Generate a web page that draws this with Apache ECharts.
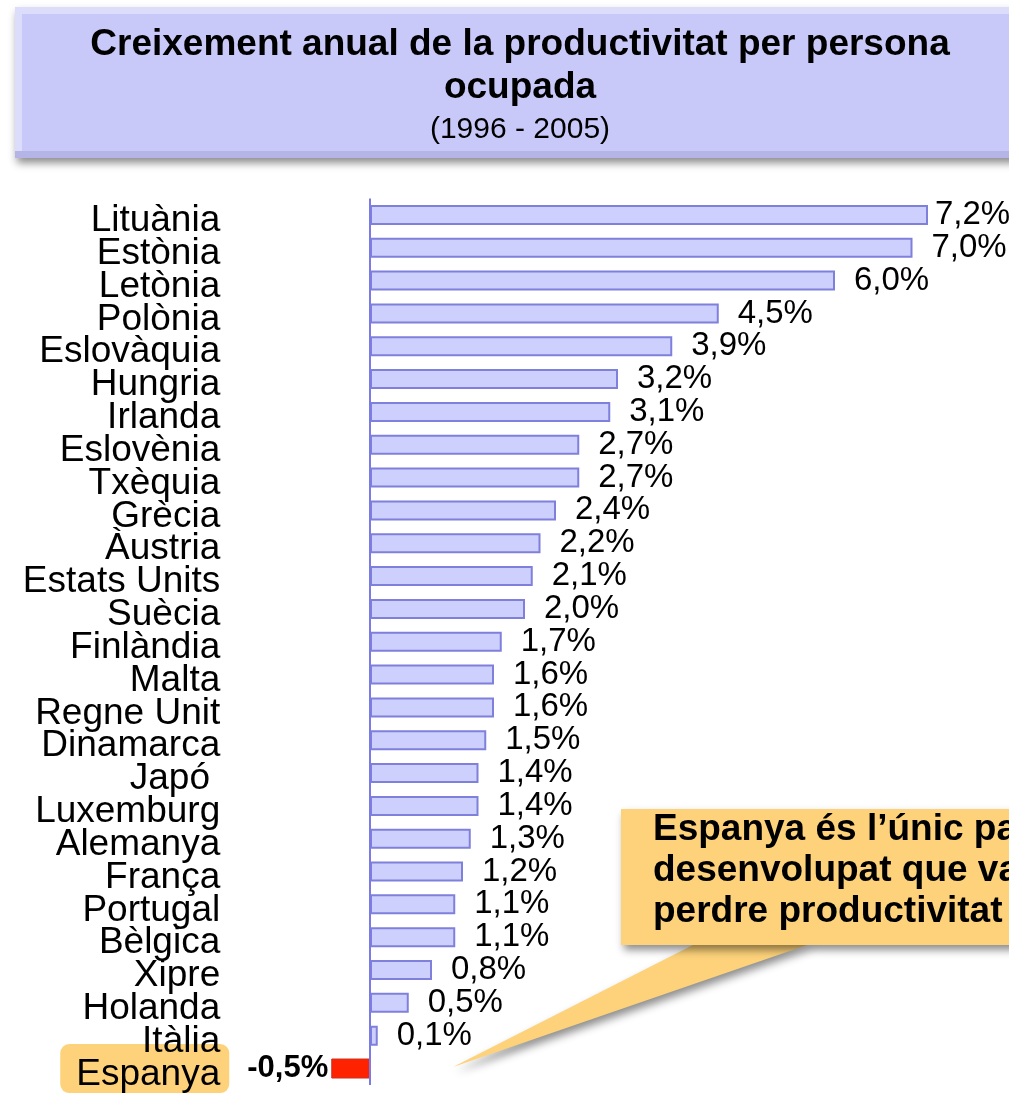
<!DOCTYPE html>
<html>
<head>
<meta charset="utf-8">
<script src="https://cdn.jsdelivr.net/npm/echarts@6/dist/echarts.min.js"></script>
<style>
  html, body { margin: 0; padding: 0; background: #fff; }
  #myChart { width: 1009px; height: 1093px; }
</style>
</head>
<body>
<div id="myChart"></div>
<script>
// dades
var countries = ["Lituània", "Estònia", "Letònia", "Polònia", "Eslovàquia", "Hungria", "Irlanda",
  "Eslovènia", "Txèquia", "Grècia", "Àustria", "Estats Units", "Suècia", "Finlàndia", "Malta",
  "Regne Unit", "Dinamarca", "Japó ", "Luxemburg", "Alemanya", "França", "Portugal", "Bèlgica",
  "Xipre", "Holanda", "Itàlia", "Espanya"];
var growth = [7.2, 7.0, 6.0, 4.5, 3.9, 3.2, 3.1, 2.7, 2.7, 2.4, 2.2, 2.1, 2.0, 1.7, 1.6, 1.6, 1.5,
  1.4, 1.4, 1.3, 1.2, 1.1, 1.1, 0.8, 0.5, 0.1, -0.5];
var titleLines = ["Creixement anual de la productivitat per persona", "ocupada"];
var subtitle = "(1996 - 2005)";
var noteText = "Espanya és l’únic país\ndesenvolupat que va\nperdre productivitat";
var highlight = "Espanya";

var font = "Liberation Sans, Arial, sans-serif";
var barFill = "#cdcffc";
var barLine = "#7f80dc";
var orange = "#fdd27a";

function pct(v) {
  return v.toFixed(1).replace(".", ",") + "%";
}

var barData = growth.map(function (v, i) {
  if (countries[i] === highlight) {
    return {
      value: v,
      itemStyle: { color: "#ff2200", borderColor: "#cc3322", borderWidth: 1 },
      label: { position: "left", distance: 3, fontWeight: "bold", fontSize: 31 }
    };
  }
  if (i === 0) {
    return { value: v, label: { distance: 7 } };
  }
  return v;
});

var labelBase = {
  interval: 0,
  showMinLabel: true,
  showMaxLabel: true,
  hideOverlap: false,
  margin: 102
};

var myChart = echarts.init(document.getElementById("myChart"));
myChart.setOption({
  animation: false,
  backgroundColor: "#fff",
  textStyle: { fontFamily: font },
  title: {
    text: titleLines.join("\n"),
    subtext: subtitle,
    left: 515,
    top: 18,
    textAlign: "center",
    itemGap: 4,
    textStyle: { fontFamily: font, fontSize: 37, fontWeight: "bold", color: "#000", lineHeight: 43 },
    subtextStyle: { fontFamily: font, fontSize: 30, color: "#000", lineHeight: 34 }
  },
  grid: { left: 331.25, right: 19, top: 198.5, bottom: 6.5 },
  xAxis: {
    type: "value",
    min: -0.5,
    max: 8,
    show: false
  },
  yAxis: [
    {
      // noms dels països
      type: "category",
      inverse: true,
      data: countries,
      z: 3,
      axisLine: { show: false },
      axisTick: { show: false },
      axisLabel: Object.assign({}, labelBase, {
        formatter: function (name) { return "{n|" + name + "}"; },
        rich: {
          n: { fontFamily: font, fontSize: 37, color: "#000", padding: [12, 9, 0, 0] }
        }
      })
    },
    {
      // fons taronja darrere d'Espanya
      type: "category",
      inverse: true,
      data: countries,
      position: "left",
      z: 1,
      axisLine: { show: false },
      axisTick: { show: false },
      axisLabel: Object.assign({}, labelBase, {
        formatter: function (name) { return name === highlight ? "{hl|" + name + "}" : ""; },
        rich: {
          hl: {
            fontFamily: font, fontSize: 37, color: "rgba(0,0,0,0)",
            backgroundColor: orange, borderRadius: 9, padding: [8, 9, 4, 16]
          }
        }
      })
    }
  ],
  graphic: [
    {
      type: "rect",
      z: 0,
      shape: { x: 15, y: 7, width: 1010, height: 151 },
      style: {
        fill: "#dcdcfb",
        shadowBlur: 8, shadowOffsetX: 2, shadowOffsetY: 5, shadowColor: "rgba(0,0,0,0.45)"
      }
    },
    {
      type: "rect",
      z: 0,
      shape: { x: 22, y: 14, width: 1000, height: 137 },
      style: { fill: "#c9c9f9" }
    },
    {
      type: "rect",
      z: 0,
      shape: { x: 15, y: 151, width: 1010, height: 7 },
      style: { fill: "#b4b4e6" }
    },
    {
      type: "polygon",
      z: 5,
      shape: { points: [[695, 944], [810, 944], [453, 1067]] },
      style: {
        fill: orange,
        shadowBlur: 8, shadowOffsetX: 3, shadowOffsetY: 5, shadowColor: "rgba(0,0,0,0.45)"
      }
    },
    {
      type: "rect",
      z: 6,
      shape: { x: 621, y: 809, width: 420, height: 136 },
      style: {
        fill: orange,
        shadowBlur: 8, shadowOffsetX: 3, shadowOffsetY: 5, shadowColor: "rgba(0,0,0,0.45)"
      }
    },
    {
      type: "text",
      z: 7,
      x: 653,
      y: 809,
      style: {
        text: noteText,
        font: "bold 37px " + font,
        fill: "#000",
        lineHeight: 41,
        verticalAlign: "top"
      }
    }
  ],
  series: [
    {
      type: "bar",
      yAxisIndex: 0,
      data: barData,
      barWidth: 20,
      itemStyle: { color: barFill, borderColor: barLine, borderWidth: 2 },
      label: {
        show: true,
        position: "right",
        distance: 19,
        fontFamily: font,
        fontSize: 33,
        color: "#000",
        formatter: function (p) { return pct(p.value); }
      },
      markLine: {
        silent: true,
        symbol: "none",
        label: { show: false },
        lineStyle: { color: "#7b7be6", width: 2, type: "solid" },
        data: [{ xAxis: 0 }]
      }
    }
  ]
});
</script>
</body>
</html>
